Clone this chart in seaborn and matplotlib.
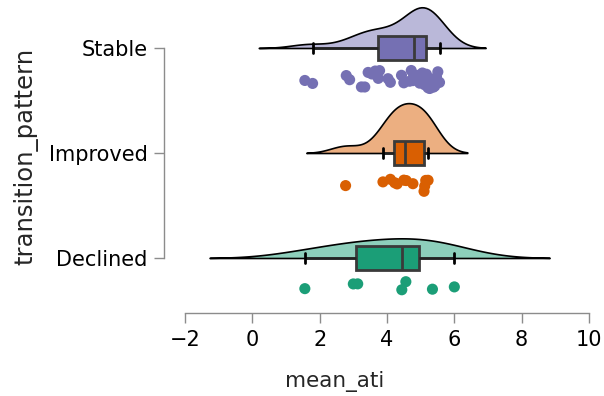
import numpy as np
import pandas as pd
import matplotlib
matplotlib.use("Agg")
import matplotlib.pyplot as plt
import seaborn as sns

categories = ["Stable", "Improved", "Declined"]
colors = ["#7570b3", "#d95f02", "#1b9e77"]

stable_vals = [1.56, 1.79, 2.79, 2.89, 3.24, 3.34, 3.44, 3.55, 3.65, 3.74, 3.78,
               4.03, 4.10, 4.43, 4.50, 4.67, 4.72, 4.77, 4.79, 4.87, 4.92, 4.97,
               5.00, 5.05, 5.10, 5.12, 5.15, 5.17, 5.20, 5.22, 5.27, 5.32, 5.38,
               5.42, 5.47, 5.51, 5.56]
improved_vals = [2.77, 3.88, 4.10, 4.23, 4.30, 4.50, 4.57, 4.77, 5.10, 5.12, 5.15, 5.22]
declined_vals = [1.56, 3.00, 3.13, 4.44, 4.56, 5.35, 6.00]

df = pd.DataFrame({
    "transition_pattern": (["Stable"] * len(stable_vals) + ["Improved"] * len(improved_vals)
                           + ["Declined"] * len(declined_vals)),
    "mean_ati": stable_vals + improved_vals + declined_vals,
})
df["half"] = "top"

sns.set_theme(style="white")
plt.rcParams["font.family"] = ["DejaVu Sans"]

fig = plt.figure(figsize=(6.04, 3.96), dpi=100)
ax = fig.add_axes([164.5 / 604, 83 / 396, (589 - 164.5) / 604, 313 / 396])

def lighten(c, f=0.5):
    rgb = np.array(matplotlib.colors.to_rgb(c))
    return tuple(rgb + (1 - rgb) * f)

light = [lighten(c) for c in colors]

sns.violinplot(data=df, x="mean_ati", y="transition_pattern", order=categories,
               hue="half", hue_order=["top", "bottom"], palette=["white", "white"],
               split=True, inner=None, cut=2.6, bw_adjust=1.05, density_norm="area",
               width=0.475, linewidth=1.2, linecolor="black", legend=False, ax=ax)
polys = list(ax.collections)
for i, (p, lc) in enumerate(zip(polys, light)):
    p.set_facecolor(lc)
    p.set_edgecolor("black")
    # put the flat side of each half violin on its category line
    new_verts = []
    for path in p.get_paths():
        v = np.array(path.vertices, dtype=float)
        base = v[:, 1].max()
        v[:, 1] = v[:, 1] + (i - base)
        new_verts.append(v)
    p.set_verts(new_verts)

n_lines = len(ax.lines)
sns.boxplot(data=df, x="mean_ati", y="transition_pattern", order=categories,
            hue="transition_pattern", hue_order=categories, palette=colors,
            saturation=1, width=0.22, linewidth=2, linecolor="#3a3a3a",
            showfliers=False, legend=False, ax=ax, zorder=3)
# shorter black caps
for ln in ax.lines[n_lines:]:
    xd = np.asarray(ln.get_xdata(), float)
    yd = np.asarray(ln.get_ydata(), float)
    if len(xd) == 2 and xd[0] == xd[1]:
        span = abs(yd[1] - yd[0])
        if span < 0.2:
            c = yd.mean()
            ln.set_ydata([c - 0.05, c + 0.05])
            ln.set_color("black")
            ln.set_linewidth(2)
    elif len(xd) == 2 and yd[0] == yd[1]:
        ln.set_color("#222222")
        ln.set_linewidth(2)

n_before = len(ax.collections)
np.random.seed(3)
sns.stripplot(data=df, x="mean_ati", y="transition_pattern", order=categories,
              hue="transition_pattern", hue_order=categories, palette=colors,
              size=8, jitter=0.09, legend=False, ax=ax, zorder=4)
for coll in ax.collections[n_before:]:
    off = coll.get_offsets()
    if len(off):
        off = np.array(off)
        off[:, 1] = off[:, 1] + 0.3
        coll.set_offsets(off)

ax.set_xlim(-2 - 20.5 / 33.67, 10)
ax.set_ylim(2 + 55 / 105, -48 / 105)
ax.set_xticks([-2, 0, 2, 4, 6, 8, 10])
for s in ["top", "right"]:
    ax.spines[s].set_visible(False)
ax.spines["bottom"].set_bounds(-2, 10)
ax.spines["left"].set_bounds(0, 2)
for s in ["bottom", "left"]:
    ax.spines[s].set_color("#8c8c8c")
    ax.spines[s].set_linewidth(1.0)
ax.tick_params(axis="both", which="major", length=7, width=1.0, color="#8c8c8c",
               labelsize=15, labelcolor="black", bottom=True, left=True, pad=5)
ax.set_xlabel("mean_ati", fontsize=15.5)
ax.xaxis.set_label_coords((335 - 164.5) / 424.5, -58 / 313)
ax.set_ylabel("transition_pattern", fontsize=17.5)
ax.yaxis.set_label_coords(-126.5 / 424.5, 0.5)

fig.savefig("out.png", dpi=100)
